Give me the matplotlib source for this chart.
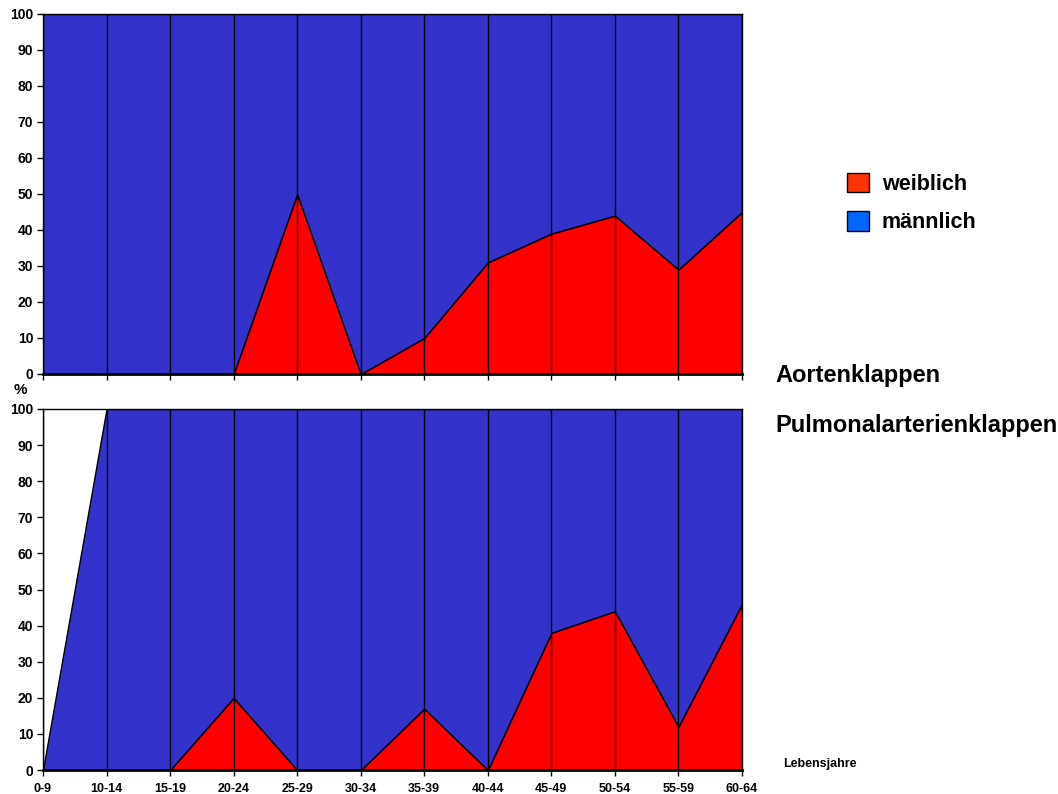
import numpy as np
import matplotlib.pyplot as plt
from matplotlib.patches import Patch

plt.rcParams['font.family'] = ['Liberation Sans', 'DejaVu Sans']
plt.rcParams['font.weight'] = 'bold'

age_groups = ['0-9', '10-14', '15-19', '20-24', '25-29', '30-34', '35-39',
              '40-44', '45-49', '50-54', '55-59', '60-64']

# Aortenklappen: percent female / male
aorta_f = [0, 0, 0, 0, 50, 0, 10, 31, 39, 44, 29, 45]
aorta_m = [100, 100, 100, 100, 50, 100, 90, 69, 61, 56, 71, 55]

# Pulmonalarterienklappen (0-9 has no cases)
pulm_f = [0, 0, 0, 20, 0, 0, 17, 0, 38, 44, 12, 46]
pulm_m = [0, 100, 100, 80, 100, 100, 83, 100, 62, 56, 88, 54]

red = '#FF0000'
blue = '#3333CC'

fig = plt.figure(figsize=(10.58, 7.94), dpi=100)
ax1 = fig.add_axes([0.0406, 0.529, 0.6607, 0.4534])
ax2 = fig.add_axes([0.0406, 0.0302, 0.6607, 0.4547])

x = np.arange(len(age_groups))

def draw_panel(ax, f, m, show_labels):
    ax.stackplot(x, f, m, colors=[red, blue], edgecolor='black', linewidth=1)
    for xi in x:
        ax.axvline(xi, color='black', linewidth=1, zorder=3)
    ax.set_xlim(0, len(age_groups) - 1)
    ax.set_ylim(0, 100)
    ax.set_yticks(range(0, 101, 10))
    ax.set_xticks(x)
    if show_labels:
        ax.set_xticklabels(age_groups, fontsize=9, fontweight='bold')
    else:
        ax.set_xticklabels([])
    ax.tick_params(axis='both', direction='out', length=4, width=1, pad=3)
    ax.tick_params(axis='x', pad=5)
    ax.tick_params(axis='y', labelsize=10)
    for s in ax.spines.values():
        s.set_linewidth(1)
    ax.spines['bottom'].set_linewidth(2)

draw_panel(ax1, aorta_f, aorta_m, False)
draw_panel(ax2, pulm_f, pulm_m, True)

fig.text(0.019, 0.509, '%', fontsize=11, fontweight='bold', ha='center', va='center')
fig.text(0.7325, 0.5277, 'Aortenklappen', fontsize=17, fontweight='bold', va='center')
fig.text(0.7325, 0.4647, 'Pulmonalarterienklappen', fontsize=17, fontweight='bold', va='center')
fig.text(0.740, 0.0378, 'Lebensjahre', fontsize=9, fontweight='bold', va='center')

handles = [Patch(facecolor='#FF3300', edgecolor='black'),
           Patch(facecolor='#0066FF', edgecolor='black')]
fig.legend(handles, ['weiblich', 'männlich'], loc='upper left',
           bbox_to_anchor=(0.7825, 0.807), frameon=False, fontsize=15.5,
           handlelength=1.0, handleheight=1.0, labelspacing=0.78,
           handletextpad=0.6)

fig.savefig('out.png', dpi=100)
